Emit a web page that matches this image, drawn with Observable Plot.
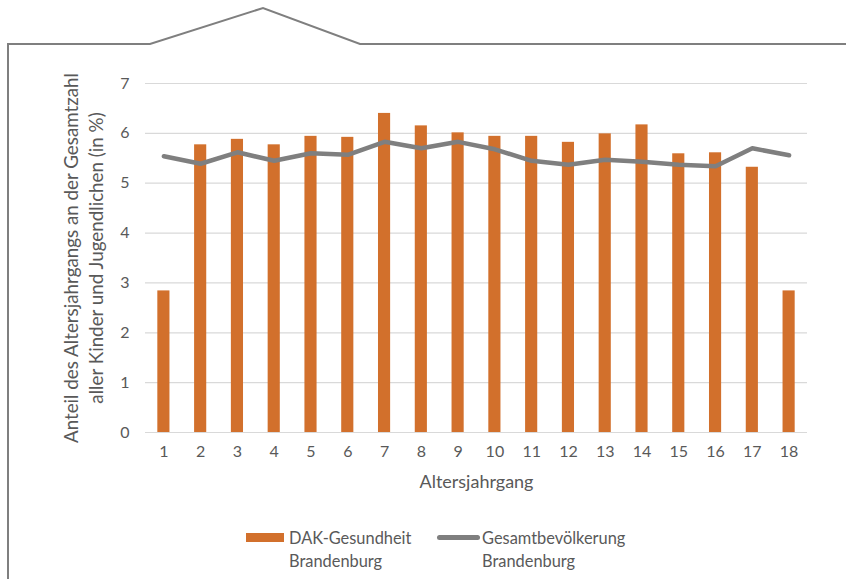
<!DOCTYPE html>
<html><head><meta charset="utf-8">
<script src="https://cdn.jsdelivr.net/npm/d3@7"></script>
<script src="https://cdn.jsdelivr.net/npm/@observablehq/plot@0.6"></script>
<style>
body{margin:0;background:#fff;font-family:Lato,"Open Sans",sans-serif;}
#wrap{position:relative;width:846px;height:579px;overflow:hidden;background:#fff;}
#frame{position:absolute;left:0;top:0;}
#chart{position:absolute;left:0;top:0;}
#legend{position:absolute;left:0;top:515px;width:846px;height:64px;color:#595959;font-size:16.4px;line-height:23px;}
.item{position:absolute;top:11px;}
.sw{position:absolute;}
</style>
</head><body>
<div id="wrap">
<svg id="frame" width="846" height="579"><path d="M8 579 V44 H150 L263 8 L360 44 H846" fill="none" stroke="#7f7f7f" stroke-width="2"/></svg>
<div id="chart"></div>
<div id="legend">
  <div class="sw" style="left:246px;top:18px;width:38px;height:9px;background:#d2702c"></div>
  <div class="item" style="left:289px">DAK-Gesundheit<br>Brandenburg</div>
  <div class="sw" style="left:437px;top:20px;width:43px;height:5px;border-radius:3px;background:#7f7f7f"></div>
  <div class="item" style="left:482px">Gesamtbevölkerung<br>Brandenburg</div>
</div>
</div>
<script>
const ages = [1,2,3,4,5,6,7,8,9,10,11,12,13,14,15,16,17,18];
const dak = [2.84,5.77,5.88,5.77,5.94,5.92,6.40,6.15,6.01,5.94,5.94,5.82,5.99,6.17,5.59,5.61,5.32,2.84];
const gesamt = [5.54,5.39,5.62,5.45,5.60,5.57,5.83,5.70,5.83,5.68,5.45,5.37,5.47,5.43,5.37,5.34,5.70,5.56];
const yTicks = [0,1,2,3,4,5,6,7];
const xTitle = "Altersjahrgang";
const yTitle = "Anteil des Altersjahrgangs an der Gesamtzahl\naller Kinder und Jugendlichen (in %)";

const chart = Plot.plot({
  width: 846,
  height: 515,
  marginLeft: 145,
  marginRight: 39,
  marginTop: 83,
  marginBottom: 83,
  style: {fontFamily: "Lato, 'Open Sans', sans-serif", fontSize: "16px", color: "#595959", background: "transparent"},
  x: {type: "band", domain: ages, paddingInner: 0.67, paddingOuter: 0.335, round: false, tickSize: 0, tickPadding: 13, label: null},
  y: {domain: [0, 7], ticks: yTicks, tickFormat: d => String(d), tickSize: 0, tickPadding: 16, label: null},
  marks: [
    Plot.ruleY(yTicks, {stroke: "#d9d9d9", strokeWidth: 1.2}),
    Plot.barY(dak, {x: ages, y: d => d, fill: "#d2702c"}),
    Plot.lineY(gesamt, {x: ages, y: d => d, stroke: "#7f7f7f", strokeWidth: 4.5, strokeLinecap: "round", strokeLinejoin: "round"}),
    Plot.text([xTitle], {frameAnchor: "bottom", text: d => d, dy: 55, fontSize: 18, fill: "#595959"}),
    Plot.text([yTitle], {frameAnchor: "left", text: d => d, textAnchor: "middle", rotate: -90, dx: -63, fontSize: 18.8, lineHeight: 1.35, fill: "#595959"})
  ]
});
document.getElementById("chart").appendChild(chart);
</script>
</body></html>
